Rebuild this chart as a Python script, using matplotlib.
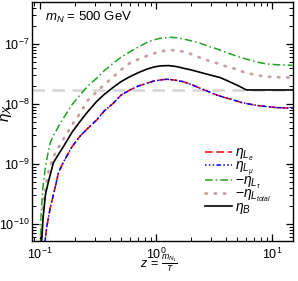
import matplotlib
matplotlib.use("Agg")
import matplotlib.pyplot as plt
from matplotlib.ticker import LogLocator, NullFormatter

plt.rcParams['font.family'] = ['Liberation Sans', 'DejaVu Sans']
plt.rcParams['mathtext.fontset'] = 'custom'
plt.rcParams['mathtext.rm'] = 'Liberation Sans'
plt.rcParams['mathtext.it'] = 'Liberation Sans:italic'
plt.rcParams['mathtext.bf'] = 'Liberation Sans:bold'

# eta_B (black)
z_B = [0.1, 0.103, 0.107, 0.112, 0.1186, 0.131, 0.145, 0.16, 0.19, 0.222, 0.26, 0.309, 0.36, 0.43, 0.5,
       0.597, 0.7, 0.832, 0.95, 1.08, 1.28, 1.5, 1.72, 2.0, 2.39, 2.9, 3.55, 4.0, 4.62, 5.28, 6.0, 8.0, 15.0]
eta_B = [1e-12, 4e-11, 1.3e-10, 3.1e-10, 5e-10, 1.05e-9, 1.45e-9, 1.95e-9, 3.4e-9, 5.1e-9, 7.5e-9, 1.1e-8, 1.45e-8, 1.9e-8, 2.35e-8,
         2.85e-8, 3.3e-8, 3.79e-8, 4.1e-8, 4.3e-8, 4.36e-8, 4.2e-8, 3.94e-8, 3.7e-8, 3.37e-8, 3.05e-8, 2.76e-8, 2.5e-8, 2.2e-8, 1.95e-8, 1.71e-8, 1.71e-8, 1.71e-8]

# eta_Le = eta_Lmu (red / blue)
z_L = [0.1, 0.107, 0.115, 0.1227, 0.1354, 0.145, 0.16, 0.19, 0.222, 0.26, 0.309, 0.36, 0.43, 0.5, 0.597, 0.7, 0.832,
       0.95, 1.08, 1.24, 1.45, 1.72, 2.0, 2.39, 2.8, 3.33, 3.9, 4.62, 5.4, 6.43, 7.84, 10.9, 15.0]
eta_Le = [1e-12, 3e-11, 9e-11, 1.8e-10, 4e-10, 7.2e-10, 1.08e-9, 1.95e-9, 2.9e-9, 3.95e-9, 5.4e-9, 7.7e-9, 1.03e-8, 1.4e-8, 1.71e-8, 1.98e-8, 2.2e-8,
          2.4e-8, 2.5e-8, 2.58e-8, 2.5e-8, 2.35e-8, 2.12e-8, 1.83e-8, 1.62e-8, 1.41e-8, 1.28e-8, 1.17e-8, 1.06e-8, 9.9e-9, 9.3e-9, 8.7e-9, 8.5e-9]
eta_Lmu = [1e-12, 3e-11, 9e-11, 1.8e-10, 4e-10, 7.2e-10, 1.08e-9, 1.95e-9, 2.9e-9, 3.95e-9, 5.4e-9, 7.7e-9, 1.03e-8, 1.4e-8, 1.71e-8, 1.98e-8, 2.2e-8,
           2.4e-8, 2.5e-8, 2.58e-8, 2.5e-8, 2.35e-8, 2.12e-8, 1.83e-8, 1.62e-8, 1.41e-8, 1.28e-8, 1.17e-8, 1.06e-8, 9.9e-9, 9.3e-9, 8.7e-9, 8.5e-9]

# -eta_Ltau (green)
z_tau = [0.0995, 0.1026, 0.106, 0.111, 0.115, 0.1227, 0.13, 0.14, 0.15, 0.16, 0.19, 0.222, 0.26, 0.309, 0.36, 0.43, 0.5,
         0.597, 0.7, 0.85, 0.95, 1.08, 1.32, 1.5, 1.72, 2.0, 2.39, 2.8, 3.33, 3.9, 4.62, 5.4, 6.43, 7.5, 8.95, 11.0, 15.0]
eta_tau = [1e-12, 1.32e-10, 3.7e-10, 7.9e-10, 1.2e-9, 2.2e-9, 2.9e-9, 3.7e-9, 4.8e-9, 5.8e-9, 9.8e-9, 1.41e-8, 2.0e-8, 2.68e-8, 3.6e-8, 4.77e-8, 6.0e-8,
           7.4e-8, 8.8e-8, 1.08e-7, 1.16e-7, 1.24e-7, 1.29e-7, 1.27e-7, 1.21e-7, 1.13e-7, 1.03e-7, 9.2e-8, 8.3e-8, 7.4e-8, 6.56e-8, 5.9e-8, 5.4e-8, 4.95e-8, 4.64e-8, 4.5e-8, 4.4e-8]

# -eta_Ltotal (pink dotted)
z_tot = [0.1, 0.104, 0.107, 0.115, 0.12, 0.131, 0.145, 0.16, 0.19, 0.222, 0.26, 0.309, 0.36, 0.43, 0.5, 0.597, 0.7,
         0.85, 0.95, 1.08, 1.28, 1.5, 1.72, 2.0, 2.39, 2.8, 3.33, 3.9, 4.62, 5.4, 6.43, 7.5, 8.95, 11.0, 15.0]
eta_tot = [1e-12, 7.9e-11, 1.95e-10, 5.4e-10, 8e-10, 1.32e-9, 1.9e-9, 2.6e-9, 4.5e-9, 7e-9, 1.15e-8, 1.6e-8, 2.1e-8, 2.85e-8, 3.7e-8, 4.8e-8, 5.5e-8,
           6.4e-8, 6.9e-8, 7.45e-8, 7.9e-8, 7.8e-8, 7.45e-8, 6.8e-8, 5.9e-8, 5.3e-8, 4.8e-8, 4.3e-8, 3.94e-8, 3.5e-8, 3.2e-8, 3.0e-8, 2.85e-8, 2.8e-8, 2.75e-8]

eta_obs = 1.68e-8

fig = plt.figure(figsize=(2.98, 2.81), dpi=100)
ax = fig.add_axes([0.1084, 0.1423, 0.8758, 0.8506])

ax.axhline(eta_obs, color='#d4d4d4', lw=1.8, ls=(0, (5, 3)), zorder=1)
l1, = ax.plot(z_L, eta_Le, color='red', lw=1.1, ls=(0, (5, 2.5)), label=r'$\eta_{L_e}$', zorder=3)
l2, = ax.plot(z_L, eta_Lmu, color='blue', lw=1.1, ls=(2, (3, 1.5, 1, 1.5, 1, 1.5)), label=r'$\eta_{L_\mu}$', zorder=3)
l3, = ax.plot(z_tau, eta_tau, color='#22a022', lw=1.1, ls=(0, (5, 2, 1, 2)), label=r'$-\eta_{L_\tau}$', zorder=3)
l4, = ax.plot(z_tot, eta_tot, color='#c8a0a0', lw=2.0, ls=(0, (0.5, 2.8)), dash_capstyle='round', label=r'$-\eta_{L_{total}}$', zorder=3)
l5, = ax.plot(z_B, eta_B, color='black', lw=1.2, label=r'$\eta_B$', zorder=3)

ax.set_xscale('log')
ax.set_yscale('log')
ax.set_xlim(0.0863, 15.2)
ax.set_ylim(5.2e-11, 5e-7)

for axis in (ax.xaxis, ax.yaxis):
    axis.set_major_locator(LogLocator(base=10, numticks=20))
    axis.set_minor_locator(LogLocator(base=10, subs=range(2, 10), numticks=20))
    axis.set_minor_formatter(NullFormatter())
ax.tick_params(which='both', direction='in', top=True, right=True, labelsize=9)
ax.tick_params(which='major', length=5, width=0.9)
ax.tick_params(which='minor', length=3, width=0.7)
ax.tick_params(axis='x', pad=4)
ax.tick_params(axis='y', pad=2)
for s in ax.spines.values():
    s.set_linewidth(1.0)

ax.set_ylabel(r'$\eta_X$', fontsize=11)
ax.yaxis.set_label_coords(-0.07, 0.536)
ax.set_xlabel(r'$z\,=\,\frac{m_{N_1}}{T}$', fontsize=9)
ax.xaxis.label.set_va('center')
ax.xaxis.set_label_coords(0.485, -0.094)

ax.text(0.049, 0.937, r'$m_N$ = 500 GeV', transform=ax.transAxes, fontsize=9.5, va='center', ha='left')

leg = ax.legend(handles=[l1, l2, l3, l4, l5], loc='upper left', bbox_to_anchor=(0.66, 0.397),
                frameon=False, fontsize=10, handlelength=2.0, handletextpad=0.2,
                labelspacing=-0.3, borderpad=0, borderaxespad=0)

fig.savefig('out.png', dpi=100)
